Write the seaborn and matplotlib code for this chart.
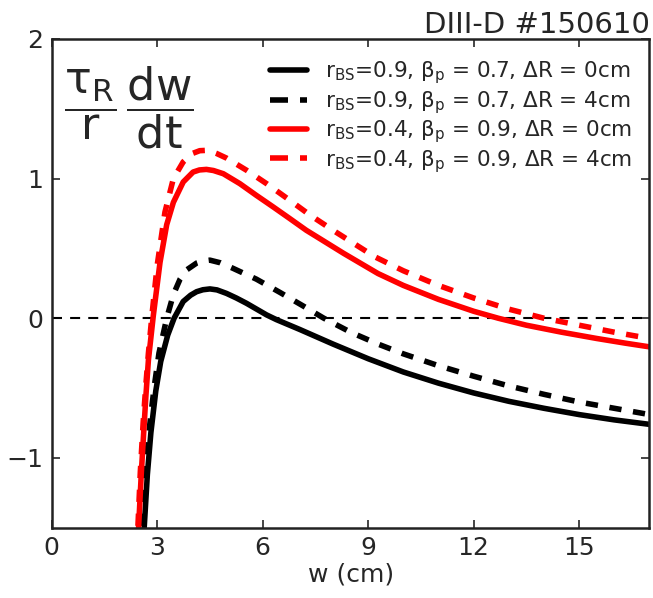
import matplotlib
matplotlib.use("Agg")
import matplotlib.pyplot as plt
import seaborn as sns
import pandas as pd

# island width w (cm) and normalised growth rate (tau_R / r) dw/dt
w_a = [2.52, 2.63, 2.72, 2.82, 2.96, 3.1, 3.3, 3.48, 3.74, 3.95, 4.12, 4.3,
       4.5, 4.7, 4.97, 5.25, 5.54, 6.11, 6.39, 7.05, 8.0, 9.0, 10.0, 11.0,
       12.0, 13.0, 14.0, 15.0, 16.0, 17.0]
rate_a = [-2.0, -1.5, -1.12, -0.82, -0.52, -0.31, -0.12, 0.0, 0.12, 0.165,
          0.19, 0.204, 0.21, 0.203, 0.178, 0.145, 0.107, 0.024, -0.01, -0.08,
          -0.185, -0.29, -0.385, -0.465, -0.535, -0.595, -0.645, -0.69,
          -0.728, -0.76]

w_b = [2.47, 2.57, 2.67, 2.78, 2.91, 3.05, 3.27, 3.46, 3.65, 3.83, 4.12, 4.3,
       4.5, 4.8, 5.16, 5.82, 6.49, 7.15, 7.74, 8.5, 9.28, 10.0, 11.0, 12.0,
       13.0, 14.0, 15.0, 16.0, 17.0]
rate_b = [-2.0, -1.5, -1.1, -0.78, -0.5, -0.25, 0.0, 0.17, 0.28, 0.345, 0.395,
          0.41, 0.416, 0.397, 0.357, 0.28, 0.185, 0.088, 0.0, -0.1, -0.185,
          -0.255, -0.34, -0.415, -0.485, -0.545, -0.60, -0.645, -0.69]

w_c = [2.42, 2.47, 2.55, 2.62, 2.68, 2.75, 2.89, 3.08, 3.27, 3.46, 3.74, 4.02,
       4.2, 4.4, 4.6, 4.88, 5.35, 5.82, 6.30, 6.77, 7.24, 7.62, 8.3, 9.28,
       10.0, 11.0, 12.0, 12.7, 13.5, 14.5, 15.5, 16.3, 17.0]
rate_c = [-2.0, -1.5, -1.1, -0.8, -0.55, -0.3, 0.02, 0.40, 0.67, 0.83, 0.976,
          1.047, 1.062, 1.066, 1.058, 1.035, 0.964, 0.88, 0.797, 0.714, 0.63,
          0.571, 0.465, 0.32, 0.235, 0.135, 0.05, 0.0, -0.05, -0.10, -0.145,
          -0.178, -0.205]

w_d = [2.4, 2.45, 2.52, 2.6, 2.67, 2.75, 2.85, 3.0, 3.22, 3.46, 3.74, 4.0, 4.21,
       4.45, 4.69, 4.97, 5.54, 6.11, 6.77, 7.34, 8.0, 9.19, 10.0, 11.0, 12.0,
       13.0, 14.0, 15.0, 16.0, 17.0]
rate_d = [-2.0, -1.5, -1.1, -0.75, -0.5, -0.25, 0.02, 0.38, 0.76, 1.0, 1.12,
          1.18, 1.20, 1.203, 1.18, 1.147, 1.06, 0.964, 0.845, 0.74, 0.63, 0.44,
          0.34, 0.235, 0.145, 0.065, 0.0, -0.05, -0.10, -0.145]

labels = [
    r"r$_{BS}$=0.9, $\beta_p$ = 0.7, $\Delta$R = 0cm",
    r"r$_{BS}$=0.9, $\beta_p$ = 0.7, $\Delta$R = 4cm",
    r"r$_{BS}$=0.4, $\beta_p$ = 0.9, $\Delta$R = 0cm",
    r"r$_{BS}$=0.4, $\beta_p$ = 0.9, $\Delta$R = 4cm",
]
colors = ["black", "black", "red", "red"]
dashed = [False, True, False, True]

x_ticks = [0, 3, 6, 9, 12, 15]
y_ticks = [-1, 0, 1, 2]
y_ticklabels = ["\u22121", "0", "1", "2"]
title = "DIII-D #150610"
x_label = "w (cm)"

sns.set_style("ticks")
plt.rcParams["font.family"] = ["DejaVu Sans"]
plt.rcParams["mathtext.default"] = "regular"
plt.rcParams["mathtext.fontset"] = "dejavusans"

fig = plt.figure(figsize=(6.53, 5.98), dpi=100)
ax = fig.add_axes([0.0792, 0.1176, 0.9154, 0.8172])

series = [(w_a, rate_a), (w_b, rate_b), (w_c, rate_c), (w_d, rate_d)]
for (w, r), lab, col, dsh in zip(series, labels, colors, dashed):
    df = pd.DataFrame({"w": w, "rate": r})
    ls = (0, (2.2, 2.1)) if dsh else "-"
    sns.lineplot(data=df, x="w", y="rate", ax=ax, color=col, lw=4,
                 linestyle=ls, label=lab, sort=False)

# marginal-stability reference line
ax.axhline(0, color="black", lw=1.5, ls=(0, (4.8, 3.9)), zorder=1)

ax.set_xlim(0, 17)
ax.set_ylim(-1.5, 2)
ax.set_xticks(x_ticks)
ax.set_yticks(y_ticks)
ax.set_yticklabels(y_ticklabels)
ax.tick_params(direction="in", top=True, right=True, length=6, width=1.2,
               labelsize=18, pad=6)
for s in ax.spines.values():
    s.set_linewidth(1.8)
    s.set_color("#222222")

ax.set_xlabel(x_label, fontsize=18, labelpad=2)
ax.set_ylabel("")
ax.set_title(title, loc="right", fontsize=21, pad=4)

ax.text(0.02, 0.948, r"$\dfrac{\tau_R}{r}\,\dfrac{dw}{dt}$",
        transform=ax.transAxes, ha="left", va="top", fontsize=32)

leg = ax.legend(loc="upper right", bbox_to_anchor=(1.0, 0.993), frameon=False,
                fontsize=15.5, handlelength=1.72, handletextpad=0.84,
                labelspacing=0.12, borderpad=0.3, borderaxespad=0.5)
for line, dsh in zip(leg.get_lines(), dashed):
    if dsh:
        line.set_dashes([3.24, 2.16])

fig.savefig("out.png", dpi=100)
